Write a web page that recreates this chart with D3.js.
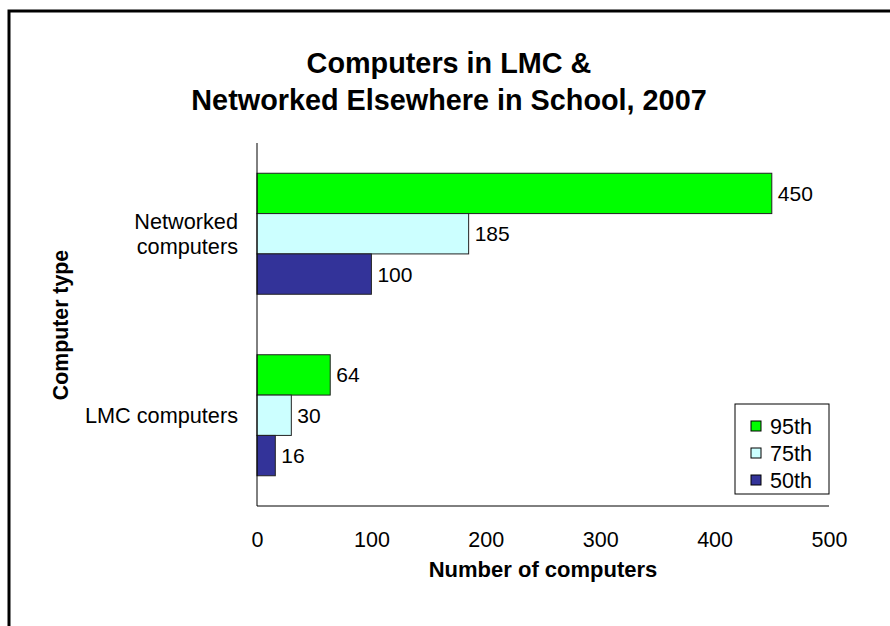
<!DOCTYPE html>
<html>
<head>
<meta charset="utf-8">
<script src="https://cdn.jsdelivr.net/npm/d3@7"></script>
<style>
  html, body { margin: 0; padding: 0; background: #fff; }
  svg { display: block; font-family: "Liberation Sans", Arial, sans-serif; }
</style>
</head>
<body>
<svg id="chart" width="890" height="626"></svg>
<script>
// ---- data ----
const categories = ["Networked computers", "LMC computers"];
const categoryLines = [["Networked", "computers"], ["LMC computers"]];
const seriesNames = ["95th", "75th", "50th"];
const seriesColors = ["#00FF00", "#CCFFFF", "#333399"];
const values95 = [450, 64];
const values75 = [185, 30];
const values50 = [100, 16];
const xTicks = [0, 100, 200, 300, 400, 500];
const titleLines = ["Computers in LMC &", "Networked Elsewhere in School, 2007"];
const xTitle = "Number of computers";
const yTitle = "Computer type";

const seriesValues = [values95, values75, values50];
const rows = [];
categories.forEach((c, ci) => {
  seriesNames.forEach((s, si) => {
    rows.push({ cat: c, series: s, value: seriesValues[si][ci], color: seriesColors[si] });
  });
});

const svg = d3.select("#chart");

// outer frame
svg.append("rect")
  .attr("x", 9).attr("y", 11)
  .attr("width", 1000).attr("height", 1000)
  .attr("fill", "none").attr("stroke", "#000").attr("stroke-width", 3);

const plot = { left: 257, right: 829, top: 143, bottom: 506 };

const x = d3.scaleLinear().domain([0, 500]).range([plot.left, plot.right]);
const y0 = d3.scaleBand().domain(categories).range([plot.top, plot.bottom])
  .paddingInner(1 / 3).paddingOuter(1 / 6);
const y1 = d3.scaleBand().domain(seriesNames).range([0, y0.bandwidth()]);

// title
svg.append("text")
  .attr("x", 449).attr("text-anchor", "middle")
  .attr("font-size", 28.8).attr("font-weight", "bold").attr("fill", "#000")
  .selectAll("tspan").data(titleLines).join("tspan")
  .attr("x", 449).attr("y", (d, i) => 73 + i * 37).text(d => d);

// bars
svg.append("g").selectAll("rect").data(rows).join("rect")
  .attr("x", x(0))
  .attr("y", d => y0(d.cat) + y1(d.series))
  .attr("width", d => x(d.value) - x(0))
  .attr("height", y1.bandwidth())
  .attr("fill", d => d.color)
  .attr("stroke", "#222").attr("stroke-width", 1);

// value labels
svg.append("g").selectAll("text").data(rows).join("text")
  .attr("x", d => x(d.value) + 6)
  .attr("y", d => y0(d.cat) + y1(d.series) + y1.bandwidth() / 2)
  .attr("dy", "0.36em")
  .attr("font-size", 21).attr("fill", "#000")
  .text(d => d.value);

// axes lines
svg.append("line")
  .attr("x1", plot.left).attr("x2", plot.left)
  .attr("y1", plot.top).attr("y2", plot.bottom)
  .attr("stroke", "#000").attr("stroke-width", 1);
svg.append("line")
  .attr("x1", plot.left).attr("x2", plot.right)
  .attr("y1", plot.bottom).attr("y2", plot.bottom)
  .attr("stroke", "#000").attr("stroke-width", 1);

// x axis tick labels (via d3 axis, no line/ticks)
const xAxis = d3.axisBottom(x).tickValues(xTicks).tickSize(0).tickPadding(0).tickFormat(d3.format("d"));
const gx = svg.append("g").attr("transform", `translate(0, 539)`).call(xAxis);
gx.select(".domain").remove();
gx.selectAll("text").attr("font-size", 21.5).attr("font-family", "Liberation Sans, Arial, sans-serif")
  .attr("fill", "#000").attr("dy", "0.36em").attr("y", 0);

// category labels
const catG = svg.append("g");
categories.forEach((c, ci) => {
  const lines = categoryLines[ci];
  const cy = y0(c) + y0.bandwidth() / 2;
  const lh = 25;
  const t = catG.append("text").attr("text-anchor", "end").attr("font-size", 21.7).attr("fill", "#000");
  lines.forEach((ln, li) => {
    t.append("tspan").attr("x", 238)
      .attr("y", cy + (li - (lines.length - 1) / 2) * lh)
      .attr("dy", "0.36em").text(ln);
  });
});

// axis titles
svg.append("text")
  .attr("x", 543).attr("y", 577).attr("text-anchor", "middle")
  .attr("font-size", 22).attr("font-weight", "bold").attr("fill", "#000")
  .text(xTitle);
svg.append("text")
  .attr("transform", "translate(68, 325) rotate(-90)")
  .attr("text-anchor", "middle")
  .attr("font-size", 21.3).attr("font-weight", "bold").attr("fill", "#000")
  .text(yTitle);

// legend
const lg = svg.append("g");
lg.append("rect").attr("x", 735).attr("y", 404).attr("width", 94).attr("height", 90)
  .attr("fill", "#fff").attr("stroke", "#000").attr("stroke-width", 1);
seriesNames.forEach((s, i) => {
  const cy = 426 + i * 27;
  lg.append("rect").attr("x", 751).attr("y", cy - 5).attr("width", 10).attr("height", 10)
    .attr("fill", seriesColors[i]).attr("stroke", "#000").attr("stroke-width", 1);
  lg.append("text").attr("x", 770).attr("y", cy).attr("dy", "0.36em")
    .attr("font-size", 21.5).attr("fill", "#000").text(s);
});
</script>
</body>
</html>
